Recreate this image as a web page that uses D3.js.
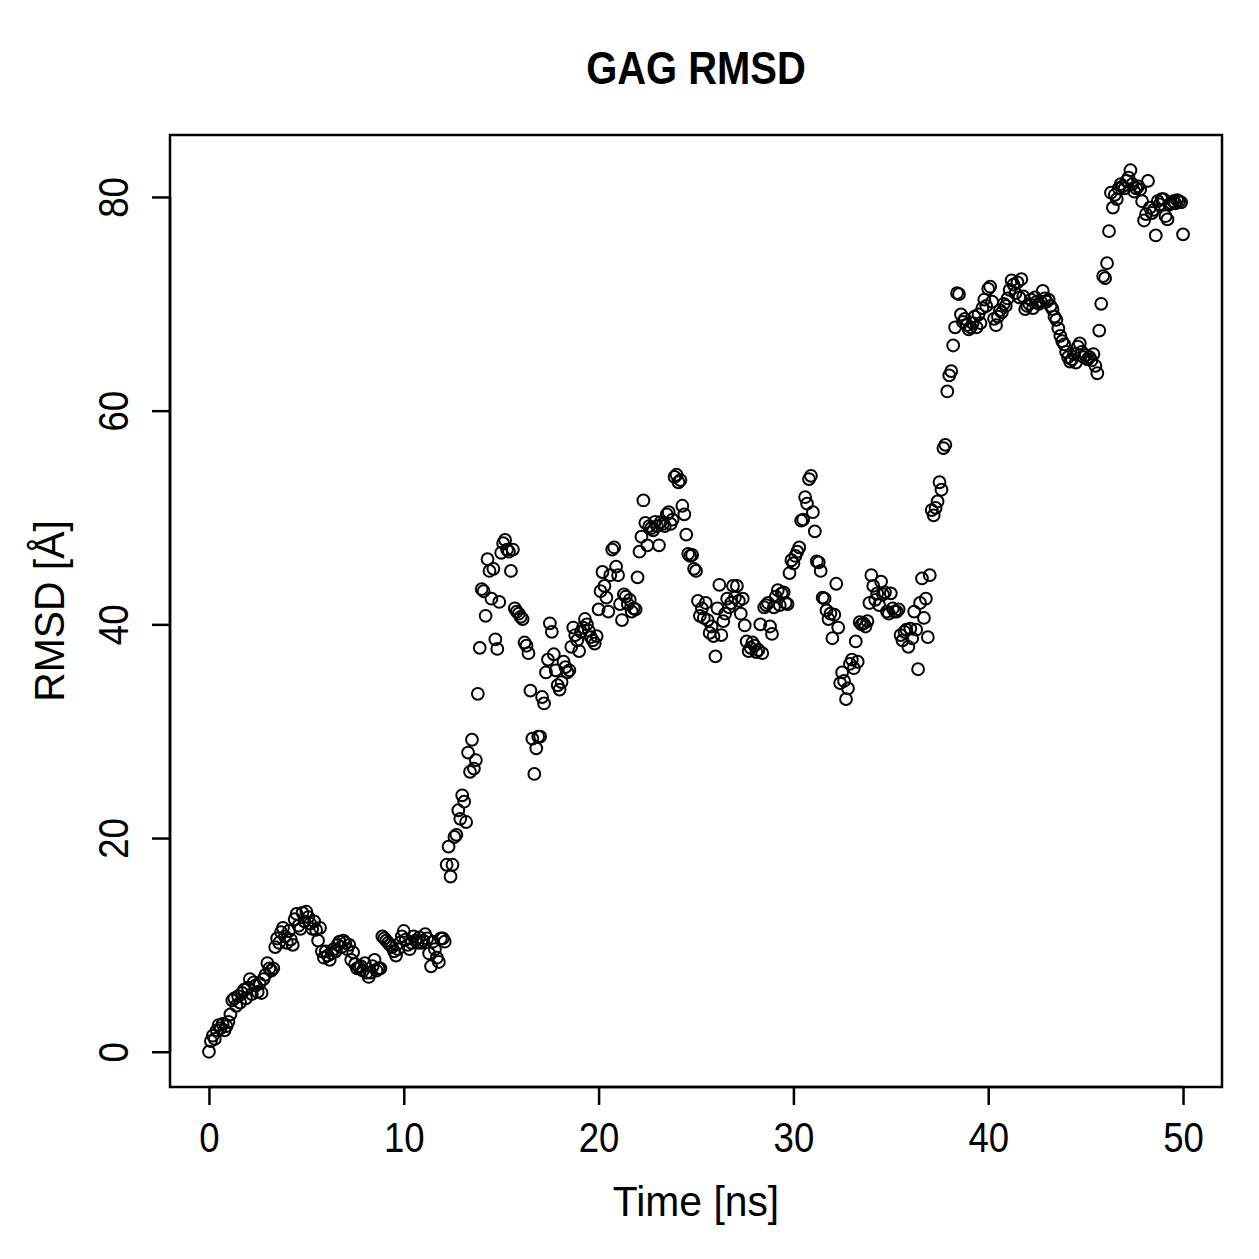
<!DOCTYPE html>
<html>
<head>
<meta charset="utf-8">
<script src="https://cdn.jsdelivr.net/npm/d3@7"></script>
<style>
  body { margin: 0; background: #fff; }
  svg { font-family: "Liberation Sans", Arial, Helvetica, sans-serif; }
</style>
</head>
<body>
<svg class="chart" width="1259" height="1259"></svg>
<script>
// RMSD values, one per 0.1 ns (each row = 1 ns)
const rmsd_rows = [
  [0.0, 1.0, 1.5, 1.2, 2.0, 2.5, 2.2, 2.6, 2.0, 2.4],
  [2.8, 3.5, 4.8, 5.0, 4.3, 5.2, 4.6, 5.5, 5.8, 5.0],
  [6.0, 6.8, 5.4, 6.5, 6.2, 5.6, 6.4, 5.5, 6.8, 7.2],
  [8.3, 7.8, 7.6, 7.8, 9.8, 10.6, 10.2, 11.2, 11.6, 10.8],
  [10.2, 11.3, 10.5, 10.0, 12.4, 12.9, 11.8, 11.5, 13.0, 12.2],
  [13.1, 12.6, 12.0, 11.5, 12.2, 11.4, 10.4, 11.6, 9.4, 8.8],
  [9.4, 9.0, 8.6, 9.2, 9.6, 9.4, 10.0, 10.3, 9.8, 10.4],
  [10.2, 9.6, 10.0, 8.6, 9.3, 8.2, 7.8, 7.9, 8.0, 7.6],
  [8.3, 7.4, 7.0, 7.4, 8.0, 8.6, 7.6, 7.8, 7.8, 10.8],
  [10.6, 10.4, 10.2, 10.0, 9.8, 9.4, 9.0, 9.6, 10.2, 10.8],
  [11.3, 10.5, 10.0, 9.6, 10.2, 10.8, 10.4, 10.2, 10.7, 10.2],
  [10.4, 11.0, 10.6, 9.2, 8.0, 10.3, 9.6, 8.8, 8.4, 10.6],
  [10.6, 10.3, 17.5, 19.2, 16.4, 17.5, 20.1, 20.3, 22.6, 21.8],
  [24.0, 23.4, 21.5, 28.0, 26.2, 29.2, 26.5, 27.3, 33.5, 37.8],
  [43.3, 43.1, 40.8, 46.1, 45.0, 42.4, 45.2, 38.6, 37.7, 42.1],
  [46.7, 47.6, 47.9, 47.0, 46.8, 45.0, 47.0, 41.5, 41.2, 41.0],
  [40.7, 40.5, 38.3, 38.0, 37.3, 33.8, 29.3, 26.0, 28.4, 29.5],
  [29.5, 33.2, 32.6, 35.5, 36.7, 40.1, 39.3, 37.2, 35.7, 34.3],
  [33.9, 34.6, 36.5, 36.0, 35.5, 35.7, 37.9, 39.7, 39.0, 38.5],
  [37.5, 39.3, 39.7, 40.5, 40.0, 39.4, 38.8, 38.5, 38.2, 38.9],
  [41.4, 43.1, 44.9, 43.6, 42.5, 41.2, 44.6, 47.0, 47.2, 45.4],
  [44.6, 41.9, 40.4, 42.8, 42.6, 41.9, 42.3, 41.2, 41.5, 41.4],
  [44.4, 46.8, 48.2, 51.6, 49.5, 47.4, 49.2, 49.0, 48.8, 49.6],
  [49.2, 47.4, 49.6, 49.4, 49.2, 50.3, 50.5, 49.4, 49.8, 53.8],
  [54.0, 53.3, 53.5, 51.1, 50.3, 48.4, 46.6, 46.4, 46.5, 45.2],
  [45.0, 42.2, 40.8, 41.5, 40.6, 42.0, 40.4, 39.2, 39.8, 38.9],
  [37.0, 41.5, 43.7, 39.0, 40.3, 41.0, 42.4, 41.6, 42.0, 43.6],
  [42.5, 43.6, 42.2, 41.0, 42.4, 39.9, 38.4, 37.5, 37.8, 38.3],
  [38.0, 37.4, 37.6, 40.0, 37.3, 41.6, 41.8, 42.0, 39.8, 39.1],
  [41.6, 42.6, 43.2, 41.8, 42.9, 43.0, 42.0, 41.9, 44.8, 46.0],
  [45.7, 46.4, 46.8, 47.2, 49.7, 49.8, 51.9, 51.3, 53.6, 53.9],
  [50.5, 48.7, 45.9, 45.8, 45.0, 42.5, 42.4, 41.3, 40.5, 41.0],
  [38.7, 40.9, 43.8, 39.7, 34.5, 35.5, 34.7, 33.0, 34.0, 36.3],
  [36.7, 35.9, 38.4, 36.5, 40.2, 40.0, 40.1, 39.8, 40.3, 42.0],
  [44.6, 43.6, 42.3, 42.9, 41.8, 44.0, 42.8, 43.0, 41.2, 41.0],
  [42.9, 41.5, 41.2, 41.2, 41.4, 39.0, 38.5, 39.3, 39.5, 37.9],
  [39.6, 38.7, 41.2, 39.5, 35.8, 42.0, 44.3, 40.6, 42.4, 38.8],
  [44.6, 50.7, 50.2, 50.9, 51.5, 53.3, 52.6, 56.5, 56.8, 61.8],
  [63.3, 63.7, 66.1, 67.8, 71.0, 70.9, 69.0, 68.3, 68.6, 68.0],
  [67.6, 67.8, 68.2, 68.8, 67.8, 69.0, 68.2, 69.6, 70.4, 69.8],
  [71.4, 71.6, 70.2, 68.6, 68.0, 68.8, 69.4, 69.2, 70.0, 69.8],
  [70.5, 71.3, 72.2, 71.8, 71.0, 72.0, 70.6, 72.3, 70.7, 69.5],
  [69.8, 70.0, 70.4, 69.6, 70.6, 70.2, 70.0, 70.2, 71.2, 70.5],
  [70.2, 70.4, 69.8, 69.5, 68.8, 68.5, 67.7, 67.0, 66.5, 66.2],
  [65.5, 65.0, 64.6, 64.8, 65.3, 64.5, 66.0, 66.3, 65.5, 65.0],
  [65.2, 64.8, 65.0, 64.7, 65.3, 64.2, 63.5, 67.5, 70.0, 72.6],
  [72.4, 73.8, 76.8, 80.4, 79.0, 80.2, 79.8, 80.8, 81.2, 81.0],
  [80.8, 81.5, 81.8, 82.5, 81.2, 80.5, 80.8, 81.0, 80.7, 79.6],
  [77.8, 78.4, 81.5, 79.0, 78.5, 78.8, 76.4, 79.6, 79.3, 79.8],
  [79.8, 78.2, 77.9, 79.3, 79.4, 79.6, 79.4, 79.7, 79.6, 79.5],
  [76.5]
]

const x_ticks = [0, 10, 20, 30, 40, 50]
const y_ticks = [0, 20, 40, 60, 80]

const title = "GAG RMSD"
const x_title = "Time [ns]"
const y_title = "RMSD [Å]"

let data = rmsd_rows.flat().map((v, i) => ({time: +(i * 0.1).toFixed(1), rmsd: v}))

const margin = {top: 135, left: 170, right: 37, bottom: 172}
const width = 1259
const height = 1259

// the reference text is a narrow helvetica, squeeze it sideways
const squeeze = 0.85
const title_squeeze = 0.95
const label_size = 43
const title_size = 47

let svg = d3.select(".chart")

// R style 4% range extension
function r_domain(ext) {
    let pad = (ext[1] - ext[0]) * 0.04
    return [ext[0] - pad, ext[1] + pad]
}

let xScale = d3.scaleLinear()
    .domain(r_domain(d3.extent(data, d => d.time)))
    .range([margin.left, width - margin.right])

let yScale = d3.scaleLinear()
    .domain(r_domain(d3.extent(data, d => d.rmsd)))
    .range([height - margin.bottom, margin.top])

// Box
svg.append("rect")
    .attr("x", margin.left)
    .attr("y", margin.top)
    .attr("width", width - margin.left - margin.right)
    .attr("height", height - margin.top - margin.bottom)
    .attr("fill", "none")
    .attr("stroke", "black")
    .attr("stroke-width", 2.5)

// Axes
let xAxis = svg.append("g")
    .attr("transform", `translate(0, ${height - margin.bottom})`)
    .call(d3.axisBottom(xScale).tickValues(x_ticks).tickSizeOuter(0).tickSize(18))

let yAxis = svg.append("g")
    .attr("transform", `translate(${margin.left}, 0)`)
    .call(d3.axisLeft(yScale).tickValues(y_ticks).tickSizeOuter(0).tickSize(18))

xAxis.select(".domain")
    .attr("d", `M${xScale(0)},0H${xScale(50)}`)
    .attr("stroke-width", 2.5)
yAxis.select(".domain")
    .attr("d", `M0,${yScale(0)}V${yScale(80)}`)
    .attr("stroke-width", 2.5)

svg.selectAll(".tick line").attr("stroke-width", 2.5)

xAxis.selectAll(".tick text")
    .attr("font-size", label_size)
    .attr("font-family", "Liberation Sans, Arial, sans-serif")
    .attr("fill", "black")
    .attr("text-anchor", "middle")
    .attr("x", 0)
    .attr("y", 0)
    .attr("dy", 0)
    .attr("transform", `translate(0, 65) scale(${squeeze}, 1)`)

yAxis.selectAll(".tick text")
    .attr("font-size", label_size)
    .attr("font-family", "Liberation Sans, Arial, sans-serif")
    .attr("fill", "black")
    .attr("text-anchor", "middle")
    .attr("x", 0)
    .attr("y", 0)
    .attr("dy", 0)
    .attr("transform", `translate(-42, 0) rotate(-90) scale(${squeeze}, 1)`)

// Points
svg.append("g")
    .selectAll("circle.pt")
    .data(data)
    .enter()
    .append("circle")
    .classed("pt", true)
    .attr("cx", d => xScale(d.time))
    .attr("cy", d => yScale(d.rmsd))
    .attr("r", 5.9)
    .attr("fill", "none")
    .attr("stroke", "black")
    .attr("stroke-width", 2)

// Titles
let mid_x = (margin.left + width - margin.right) / 2
let mid_y = (margin.top + height - margin.bottom) / 2

svg.append("text")
    .attr("transform", `translate(${mid_x}, 84) scale(${squeeze}, 1)`)
    .attr("text-anchor", "middle")
    .attr("font-size", title_size)
    .attr("font-weight", "bold")
    .text(title)

svg.append("text")
    .attr("transform", `translate(${mid_x}, 1216) scale(${title_squeeze}, 1)`)
    .attr("text-anchor", "middle")
    .attr("font-size", label_size)
    .text(x_title)

svg.append("text")
    .attr("transform", `translate(64, ${mid_y}) rotate(-90) scale(${title_squeeze}, 1)`)
    .attr("text-anchor", "middle")
    .attr("font-size", label_size)
    .text(y_title)
</script>
</body>
</html>
